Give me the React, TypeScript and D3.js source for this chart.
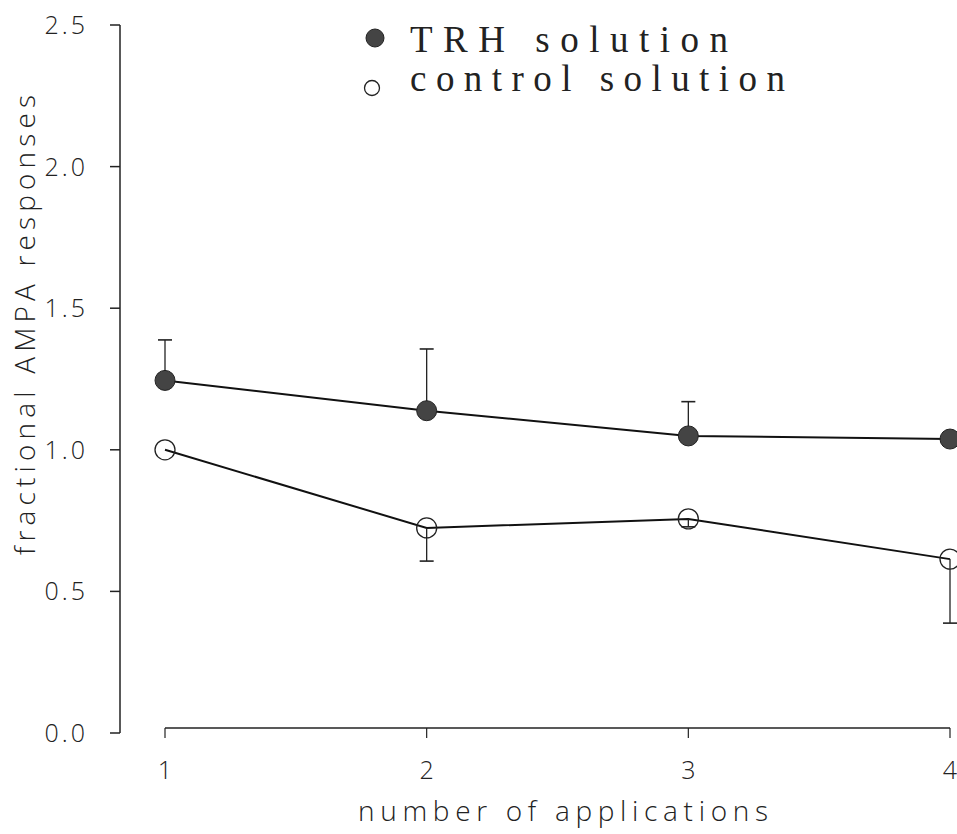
import React from "react";
import * as d3 from "d3";

const applications = [1, 2, 3, 4];
const trhMean = [1.245, 1.138, 1.049, 1.038];
const trhErrUp = [1.388, 1.356, 1.17, null];
const ctrlMean = [1.0, 0.724, 0.756, 0.614];
const ctrlErrDown = [null, 0.607, 0.728, 0.388];
const yTicks = [0, 0.5, 1.0, 1.5, 2.0, 2.5];
const xTicks = [1, 2, 3, 4];

const W = 957;
const H = 834;

export default function App() {
  const x = d3.scaleLinear().domain([1, 4]).range([165, 950]);
  const y = d3.scaleLinear().domain([0, 2.5]).range([733, 25]);
  const line = d3
    .line<number>()
    .x((_, i) => x(applications[i]))
    .y((d) => y(d));
  const axisFont = "'Open Sans', Lato, sans-serif";
  const legendFont = "'Liberation Serif', 'DejaVu Serif', serif";
  const r = 10;
  return (
    <svg width={W} height={H} style={{ position: "absolute", left: 0, top: 0, background: "#fff" }}>
      <rect width={W} height={H} fill="#fff" />
      {/* y axis */}
      <line x1={120} x2={120} y1={y(2.5)} y2={y(0)} stroke="#222" strokeWidth={1.5} />
      {yTicks.map((t) => (
        <g key={t}>
          <line x1={110} x2={120} y1={y(t)} y2={y(t)} stroke="#222" strokeWidth={1.5} />
          <text x={88} y={y(t)} dy="0.36em" textAnchor="end" fontFamily={axisFont} fontWeight={300} fontSize={25} letterSpacing={3} fill="#222">
            {t.toFixed(1)}
          </text>
        </g>
      ))}
      <text
        transform={`translate(35,${325}) rotate(-90)`}
        textAnchor="middle"
        fontFamily={axisFont}
        fontWeight={300}
        fontSize={28}
        textLength={460}
        lengthAdjust="spacing"
        fill="#222"
      >
        fractional AMPA responses
      </text>
      {/* x axis */}
      <line x1={x(1)} x2={x(4)} y1={728} y2={728} stroke="#222" strokeWidth={1.5} />
      {xTicks.map((t) => (
        <g key={t}>
          <line x1={x(t)} x2={x(t)} y1={728} y2={738} stroke="#222" strokeWidth={1.2} />
          <text x={x(t)} y={779} textAnchor="middle" fontFamily={axisFont} fontWeight={300} fontSize={25} fill="#222">
            {t}
          </text>
        </g>
      ))}
      <text
        x={563}
        y={821}
        textAnchor="middle"
        fontFamily={axisFont}
        fontWeight={300}
        fontSize={28}
        textLength={410}
        lengthAdjust="spacing"
        fill="#222"
      >
        number of applications
      </text>
      {/* lines */}
      <path d={line(trhMean) || ""} fill="none" stroke="#111" strokeWidth={2} />
      <path d={line(ctrlMean) || ""} fill="none" stroke="#111" strokeWidth={2} />
      {/* error bars */}
      {trhErrUp.map((e, i) =>
        e == null ? null : (
          <g key={"te" + i}>
            <line x1={x(applications[i])} x2={x(applications[i])} y1={y(trhMean[i])} y2={y(e)} stroke="#222" strokeWidth={1.3} />
            <line x1={x(applications[i]) - 7} x2={x(applications[i]) + 7} y1={y(e)} y2={y(e)} stroke="#222" strokeWidth={1.6} />
          </g>
        )
      )}
      {ctrlErrDown.map((e, i) =>
        e == null ? null : (
          <g key={"ce" + i}>
            <line x1={x(applications[i])} x2={x(applications[i])} y1={y(ctrlMean[i])} y2={y(e)} stroke="#222" strokeWidth={1.3} />
            <line x1={x(applications[i]) - 7} x2={x(applications[i]) + 7} y1={y(e)} y2={y(e)} stroke="#222" strokeWidth={1.6} />
          </g>
        )
      )}
      {/* markers */}
      {trhMean.map((v, i) => (
        <circle key={"tm" + i} cx={x(applications[i])} cy={y(v)} r={r} fill="#444" stroke="#222" strokeWidth={1} />
      ))}
      {ctrlMean.map((v, i) => (
        <circle key={"cm" + i} cx={x(applications[i])} cy={y(v)} r={r} fill="none" stroke="#222" strokeWidth={1.3} />
      ))}
      {/* legend */}
      <circle cx={375} cy={38} r={9} fill="#444" stroke="#222" strokeWidth={1} />
      <text x={410} y={52} fontFamily={legendFont} fontSize={37} textLength={318} lengthAdjust="spacing" fill="#222">
        {"TRH  solution"}
      </text>
      <circle cx={372} cy={88} r={7.5} fill="none" stroke="#222" strokeWidth={1.3} />
      <text x={410} y={91} fontFamily={legendFont} fontSize={37} textLength={375} lengthAdjust="spacing" fill="#222">
        control solution
      </text>
    </svg>
  );
}
